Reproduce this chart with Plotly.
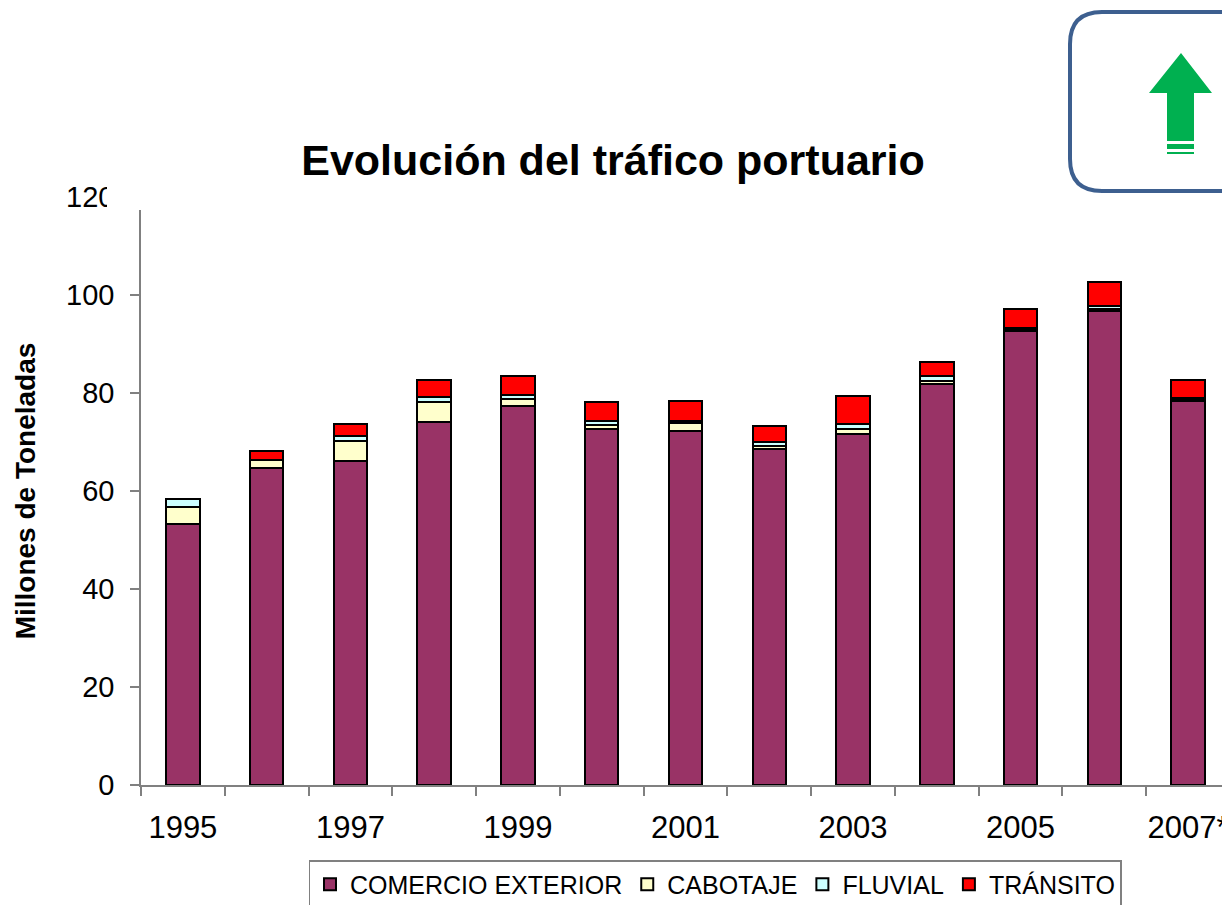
import plotly.graph_objects as go

# -------------------------
# DATA (millones de toneladas)
# -------------------------
years = ["1995", "1996", "1997", "1998", "1999", "2000", "2001",
         "2002", "2003", "2004", "2005", "2006", "2007*"]

comercio_exterior = [53.3, 64.6, 66.1, 74.1, 77.3, 72.7, 72.3, 68.6, 71.6, 81.9, 92.7, 96.7, 78.4]
cabotaje = [3.5, 1.7, 4.1, 4.1, 1.4, 0.8, 1.6, 0.6, 1.1, 0.6, 0.3, 0.5, 0.3]
fluvial = [1.5, 0.1, 1.0, 1.0, 0.9, 0.8, 0.4, 0.7, 0.9, 1.0, 0.3, 0.5, 0.2]
transito = [None, 1.8, 2.4, 3.5, 3.9, 3.9, 4.1, 3.4, 5.8, 2.9, 3.8, 4.9, 3.8]

series = [
    ("COMERCIO EXTERIOR", comercio_exterior, "#993366"),
    ("CABOTAJE", cabotaje, "#FFFFCC"),
    ("FLUVIAL", fluvial, "#CCFFFF"),
    ("TRÁNSITO", transito, "#FF0000"),
]

FONT = "Liberation Sans, Arial, sans-serif"
OFF = 8  # page body margin
W, H = 1230 - OFF, 913 - 2 * OFF
L, R, T, B = 141 - OFF, 0, 197 - OFF, H - (785 - OFF)

xpos = list(range(len(years)))

fig = go.Figure()
for name, vals, color in series:
    fig.add_trace(go.Bar(
        x=xpos,
        y=vals,
        name=name,
        width=0.4,
        marker=dict(color=color, line=dict(color="black", width=2)),
    ))


# page pixel -> paper helpers for decorative shapes
def px(x):
    return (x - OFF - L) / (W - L - R)


def py(y):
    return (H - B - (y - OFF)) / (H - B - T)


def path(points):
    return "M " + " L ".join(f"{px(a)},{py(b)}" for a, b in points) + " Z"


# rounded box top right
x0, y0, x1, y1, r = 1070, 12, 1260, 191, 32
box = (f"M {px(x0 + r)},{py(y0)} L {px(x1)},{py(y0)} L {px(x1)},{py(y1)} "
       f"L {px(x0 + r)},{py(y1)} Q {px(x0)},{py(y1)} {px(x0)},{py(y1 - r)} "
       f"L {px(x0)},{py(y0 + r)} Q {px(x0)},{py(y0)} {px(x0 + r)},{py(y0)}")

shapes = [
    dict(type="path", xref="paper", yref="paper", path=box,
         line=dict(color="#3D5F8F", width=4), fillcolor="rgba(0,0,0,0)"),
    dict(type="path", xref="paper", yref="paper",
         path=path([(1181, 53), (1212, 93), (1194, 93), (1194, 141),
                    (1167, 141), (1167, 93), (1149, 93)]),
         line=dict(width=0), fillcolor="#00B050"),
    dict(type="path", xref="paper", yref="paper",
         path=path([(1167, 144), (1194, 144), (1194, 149), (1167, 149)]),
         line=dict(width=0), fillcolor="#00B050"),
    dict(type="path", xref="paper", yref="paper",
         path=path([(1167, 152), (1194, 152), (1194, 154), (1167, 154)]),
         line=dict(width=0), fillcolor="#00B050"),
    # the slide crops the top of the value axis
    dict(type="rect", xref="paper", yref="paper",
         x0=px(107), x1=px(150), y0=py(182), y1=py(210),
         line=dict(width=0), fillcolor="white", layer="above"),
]

fig.update_layout(
    width=W,
    height=H,
    margin=dict(l=L, r=R, t=T, b=B, autoexpand=False),
    barmode="stack",
    paper_bgcolor="white",
    plot_bgcolor="white",
    font=dict(family=FONT, color="black"),
    title=dict(
        text="<b>Evolución del tráfico portuario</b>",
        font=dict(family=FONT, size=43),
        x=(613 - OFF) / W, xref="container", xanchor="center",
        y=1 - (160 - OFF) / H, yref="container", yanchor="middle",
    ),
    xaxis=dict(
        range=[-0.5, len(years) - 0.5],
        tickmode="array",
        tickvals=[i for i in xpos if i % 2 == 0],
        ticktext=[years[i] for i in xpos if i % 2 == 0],
        ticks="",
        ticklabelstandoff=14,
        tickfont=dict(size=31),
        showline=True, linecolor="#808080", linewidth=1.5,
        showgrid=False, zeroline=False,
        minor=dict(
            tickmode="array",
            tickvals=[i - 0.5 for i in range(len(years) + 1)],
            ticks="outside", ticklen=9, tickcolor="#808080", tickwidth=1.5,
            showgrid=False,
        ),
    ),
    yaxis=dict(
        range=[0, 120],
        dtick=20,
        ticks="outside", ticklen=9, tickcolor="#808080", tickwidth=1.5,
        ticklabelstandoff=10,
        tickfont=dict(size=29),
        showline=True, linecolor="#808080", linewidth=1.5,
        showgrid=False, zeroline=False,
        title=dict(text="<b>Millones de Toneladas</b>",
                   font=dict(size=28), standoff=22),
    ),
    legend=dict(
        orientation="h",
        x=(715 - OFF) / W, xref="container", xanchor="center",
        y=1 - (860 - OFF) / H, yref="container", yanchor="top",
        font=dict(size=25),
        bordercolor="#808080", borderwidth=1.5,
        traceorder="normal",
        itemclick=False,
    ),
    shapes=shapes,
    showlegend=True,
)

fig.write_html("out.html")
